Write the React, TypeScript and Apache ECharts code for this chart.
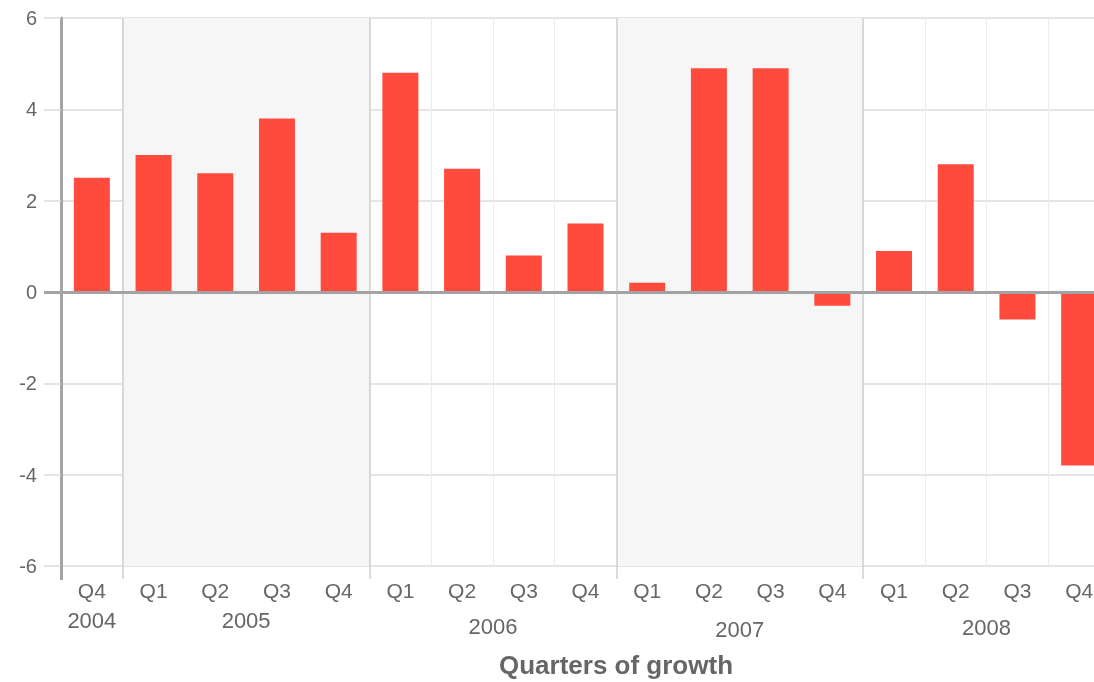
import React, { useEffect, useRef } from "react";
import * as echarts from "echarts";

const quarters = ["Q4", "Q1", "Q2", "Q3", "Q4", "Q1", "Q2", "Q3", "Q4", "Q1", "Q2", "Q3", "Q4", "Q1", "Q2", "Q3", "Q4"];
const years = ["2004", "2005", "2006", "2007", "2008"];
const quartersPerYear = [1, 4, 4, 4, 4];
const shadedYears = ["2005", "2007"];
const growth = [2.5, 3.0, 2.6, 3.8, 1.3, 4.8, 2.7, 0.8, 1.5, 0.2, 4.9, 4.9, -0.3, 0.9, 2.8, -0.6, -3.8];
const yTicks = { min: -6, max: 6, interval: 2 };
const axisTitle = "Quarters of growth";

export default function App() {
  const ref = useRef<HTMLDivElement>(null);
  useEffect(() => {
    if (!ref.current) return;
    const chart = echarts.init(ref.current, null, { renderer: "svg" });

    // year group boundaries and centres, in category units
    const starts: number[] = [];
    let acc = 0;
    quartersPerYear.forEach((n) => {
      starts.push(acc);
      acc += n;
    });
    const centers = starts.map((s, i) => s + quartersPerYear[i] / 2);
    const boundaries = starts.slice(1);
    const yearLift = [0, 0, 6, 9, 7];

    const font = "Liberation Sans";
    const rich: Record<string, any> = {};
    years.forEach((_, i) => {
      rich["y" + i] = { color: "#666", fontSize: 22, fontFamily: font, padding: [yearLift[i], 0, 0, 0] };
    });

    const shadeAreas = years
      .map((y, i) => ({ y, i }))
      .filter((o) => shadedYears.includes(o.y))
      .map((o) => [{ xAxis: starts[o.i] }, { xAxis: starts[o.i] + quartersPerYear[o.i] }]);

    chart.setOption({
      animation: false,
      grid: { left: 61, top: 18, width: 1049, height: 548 },
      xAxis: [
        {
          type: "category",
          data: quarters,
          position: "bottom",
          axisLine: { show: false, onZero: false },
          axisTick: { show: false },
          splitLine: { show: true, lineStyle: { color: "#ebebeb", width: 1 } },
          axisLabel: { color: "#666", fontSize: 21, fontFamily: font, margin: 14 },
        },
        {
          type: "value",
          min: 0,
          max: acc,
          interval: 0.5,
          position: "bottom",
          axisLine: { show: false, onZero: false },
          splitLine: { show: false },
          axisTick: {
            show: true,
            customValues: boundaries,
            length: 13,
            lineStyle: { color: "#cfcfcf", width: 1.5 },
          },
          axisLabel: {
            margin: 43,
            showMinLabel: true,
            showMaxLabel: true,
            formatter: (v: number) => {
              const idx = centers.findIndex((c) => Math.abs(c - v) < 1e-6);
              return idx >= 0 ? `{y${idx}|${years[idx]}}` : "";
            },
            rich,
          },
        },
        {
          type: "value",
          min: 0,
          max: acc,
          position: "bottom",
          axisLine: { show: false, onZero: false },
          splitLine: { show: false },
          axisLabel: { show: false },
          axisTick: {
            show: true,
            customValues: [0],
            length: 14,
            lineStyle: { color: "#a3a3a3", width: 3 },
          },
        },
      ],
      yAxis: [
        {
          type: "value",
          min: yTicks.min,
          max: yTicks.max,
          interval: yTicks.interval,
          axisLine: { show: true, lineStyle: { color: "#a3a3a3", width: 3 } },
          axisTick: { show: true, length: 17, lineStyle: { color: "#dcdcdc", width: 1.5 } },
          splitLine: { show: true, lineStyle: { color: "#dcdcdc", width: 1.5 } },
          axisLabel: { color: "#666", fontSize: 20, fontFamily: font, margin: 24 },
        },
        {
          type: "value",
          min: yTicks.min,
          max: yTicks.max,
          position: "left",
          axisLine: { show: false },
          splitLine: { show: false },
          axisLabel: { show: false },
          axisTick: { show: true, customValues: [0], length: 17, lineStyle: { color: "#a3a3a3", width: 3 } },
        },
      ],
      series: [
        {
          type: "line",
          xAxisIndex: 1,
          yAxisIndex: 0,
          data: [],
          z: -1,
          silent: true,
          markArea: {
            silent: true,
            itemStyle: { color: "#f6f6f6" },
            data: shadeAreas,
          },
          markLine: {
            silent: true,
            symbol: ["none", "none"],
            label: { show: false },
            lineStyle: { color: "#cfcfcf", width: 1.5, type: "solid" },
            data: boundaries.map((b) => ({ xAxis: b })),
          },
        },
        {
          type: "bar",
          data: growth,
          barWidth: 36,
          itemStyle: { color: "#ff4a3e" },
          markLine: {
            silent: true,
            symbol: ["none", "none"],
            label: { show: false },
            lineStyle: { color: "#a3a3a3", width: 3, type: "solid" },
            data: [{ yAxis: 0 }],
          },
        },
      ],
      graphic: [
        {
          type: "text",
          x: 616,
          y: 665,
          style: {
            text: axisTitle,
            fill: "#666",
            font: `bold 26px ${font}`,
            textAlign: "center",
            textVerticalAlign: "middle",
          },
        },
      ],
    });
    return () => chart.dispose();
  }, []);
  return (
    <div style={{ position: "fixed", left: 0, top: 0, width: 1094, height: 682, overflow: "hidden" }}>
      <div ref={ref} style={{ width: 1124, height: 682 }} />
    </div>
  );
}
